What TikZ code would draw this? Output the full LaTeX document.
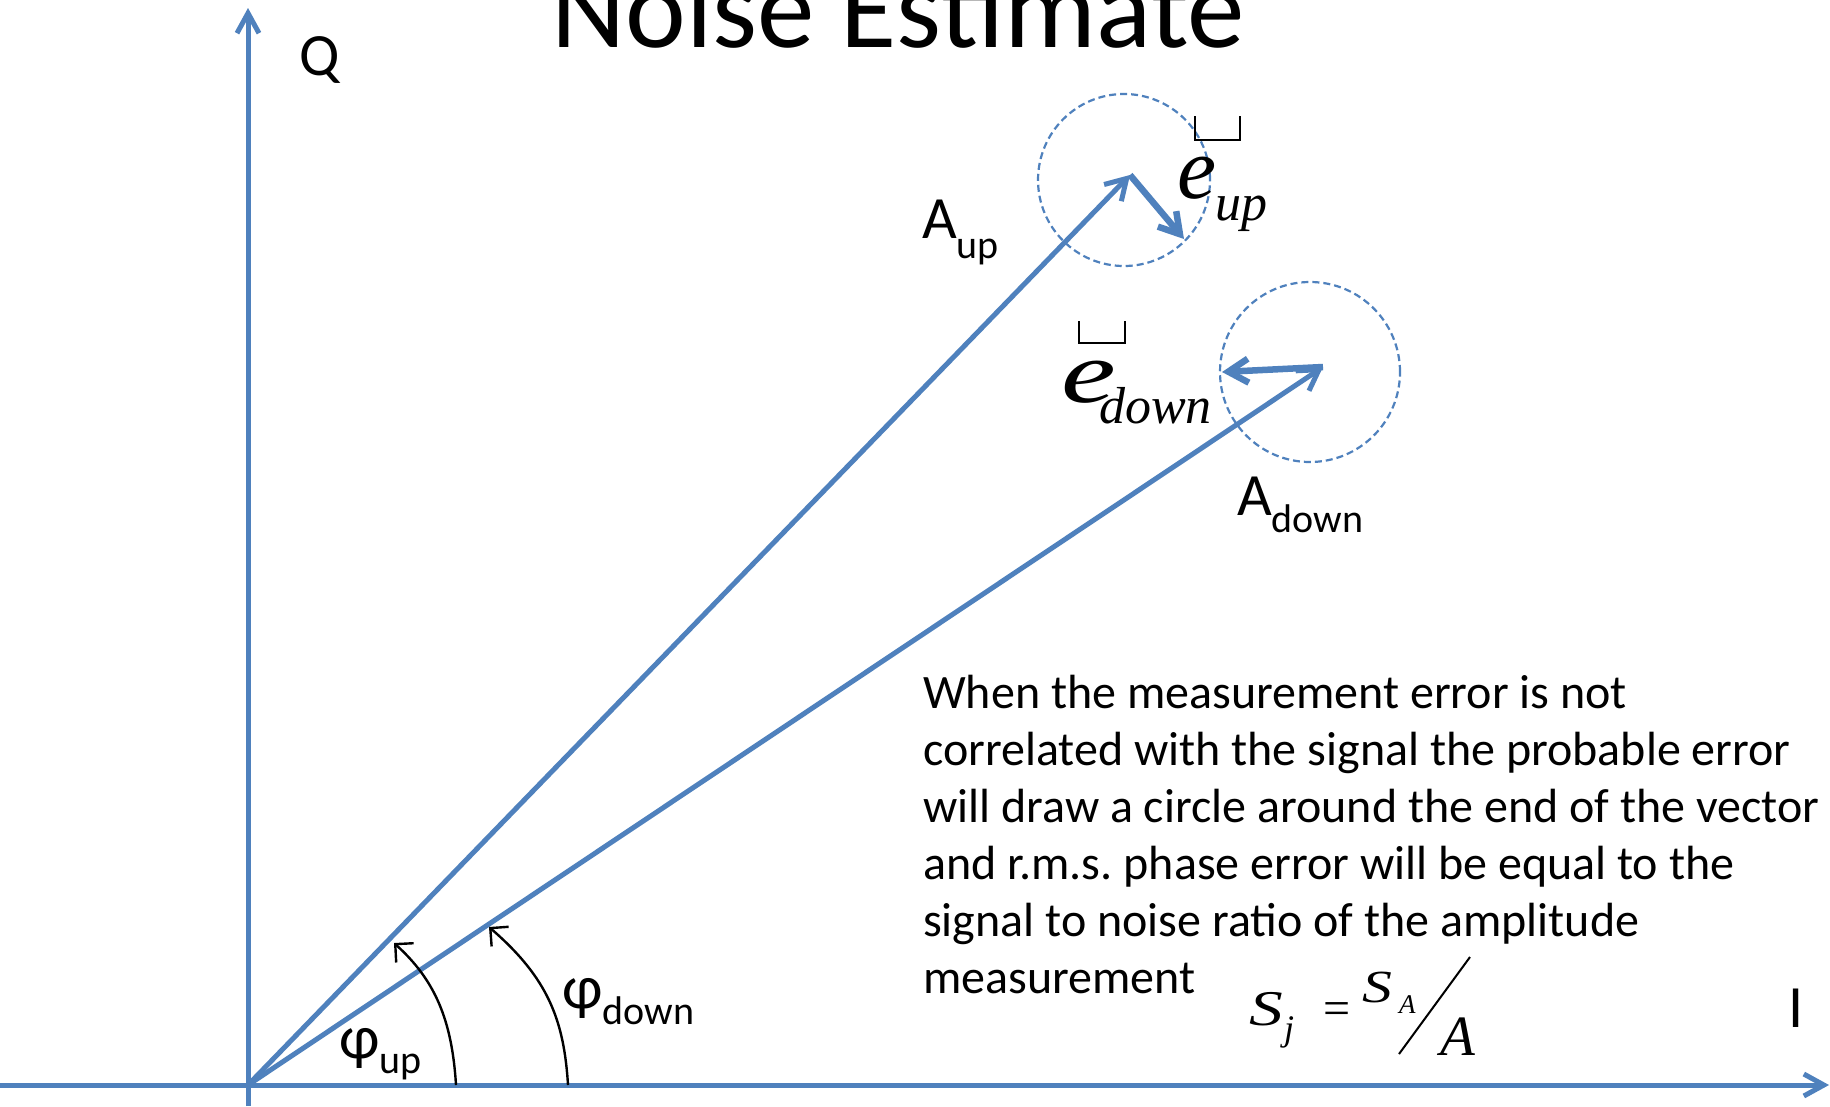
\documentclass[tikz,border=0pt]{standalone}
\usepackage{fontspec}
\setmainfont{Carlito}
\newfontfamily\tnr{Liberation Serif}
\usetikzlibrary{arrows.meta}
\definecolor{vblue}{HTML}{4F81BD}
\newcommand{\fs}[1]{\fontsize{#1}{#1}\selectfont}
\frenchspacing
\begin{document}
\begin{tikzpicture}[x=1pt,y=-1pt,
  axis/.style={vblue, line width=5pt, -{Straight Barb[length=20pt,width=22pt]}},
  vec/.style={vblue, line width=5pt, -{Straight Barb[length=20pt,width=24pt]}},
  errvec/.style={vblue, line width=6.5pt, -{Straight Barb[length=20pt,width=24pt]}},
  noise/.style={circle, draw=vblue, line width=2.2pt, dash pattern=on 7pt off 4pt, inner sep=0pt},
  angarrow/.style={black, line width=2.4pt, -{Straight Barb[length=13pt,width=26pt]}},
  lbl/.style={inner sep=0pt, anchor=base west, text=black},
  bracket/.style={black, line width=2pt},
]
\clip (0,0) rectangle (1830,1106);
\fill[white] (0,0) rectangle (1830,1106);

% title
\node[inner sep=0pt, anchor=base, font=\fs{115}] (title) at (898,47) {Noise Estimate};

% axes
\coordinate (O) at (248,1085);
\coordinate (Qtip) at (248,8);
\coordinate (Qbot) at (248,1106);
\coordinate (Ileft) at (0,1085);
\coordinate (Itip) at (1829,1085);
\draw[axis] (Qbot) -- (Qtip);
\draw[axis] (Ileft) -- (Itip);

% noise circles
\node[noise, minimum size=172pt] (cup) at (1124,180) {};
\node[noise, minimum size=180pt] (cdn) at (1310,372) {};

% vectors
\coordinate (Aup) at (1130,175);
\coordinate (Adn) at (1323,367);
\coordinate (Eup) at (1184,239);
\coordinate (Edn) at (1222,372);
\draw[vec] (O) -- (Aup);
\draw[vec] (O) -- (Adn);
\draw[errvec] (Aup) -- (Eup);
\draw[errvec] (Adn) -- (Edn);

% angle arrows
\coordinate (pu0) at (456,1085);
\coordinate (pu1) at (394,943);
\coordinate (pd0) at (568,1085);
\coordinate (pd1) at (489,927);
\draw[angarrow] (pu0) .. controls (452,1020) and (435,980) .. (pu1);
\draw[angarrow] (pd0) .. controls (564,1020) and (548,978) .. (pd1);

% labels
\node[lbl] (Q) at (299,75) {\fs{60}Q};
\node[lbl] (Il) at (1788,1027) {\fs{60}I};
\node[lbl] (Aupl) at (922,238) {\fs{60}A\raisebox{-20pt}{\fs{40}up}};
\node[lbl] (Adnl) at (1237,515) {\fs{60}A\raisebox{-17pt}{\fs{40}down}};
\node[lbl] (phiu) at (339,1058) {\fs{62}φ\raisebox{-15pt}{\fs{40}up}};
\node[lbl] (phid) at (562,1008) {\fs{62}φ\raisebox{-16pt}{\fs{40}down}};

% error vector labels
\node[lbl] (eupe) at (1177,198) {\tnr\itshape\fs{88}e};
\node[lbl] (eupsub) at (1215,220) {\tnr\itshape\fs{52}up};
\node[lbl, xscale=1.4] (edne) at (1061,402) {\tnr\itshape\fs{88}e};
\node[lbl] (ednsub) at (1099,423) {\tnr\itshape\fs{52}down};
\draw[bracket] (1195,116) -- (1195,140) -- (1240,140) -- (1240,116);
\draw[bracket] (1079,321) -- (1079,343) -- (1125,343) -- (1125,321);

% explanatory text
\node[lbl] (txt) at (923,708) {\vtop{\fs{48}\baselineskip=57pt
  \hbox{When the measurement error is not}
  \hbox{correlated with the signal the probable error}
  \hbox{will draw a circle around the end of the vector}
  \hbox{and r.m.s. phase error will be equal to the}
  \hbox{signal to noise ratio of the amplitude}
  \hbox{measurement}}};

% formula
\node[lbl, xscale=1.35] (Sj) at (1249,1025) {\tnr\itshape\fs{50}S};
\node[lbl] (Sjsub) at (1284,1040) {\tnr\itshape\fs{36}j};
\node[lbl] (eq) at (1323,1024) {\tnr\fs{48}=};
\node[lbl, xscale=1.3] (SA) at (1362,1002) {\tnr\itshape\fs{46}S};
\node[lbl] (SAsub) at (1399,1013) {\tnr\itshape\fs{27}A};
\node[lbl] (Aden) at (1440,1055) {\tnr\itshape\fs{57}A};
\coordinate (sl0) at (1399,1054);
\coordinate (sl1) at (1470,957);
\draw[black, line width=2pt] (sl0) -- (sl1);
\end{tikzpicture}
\end{document}
